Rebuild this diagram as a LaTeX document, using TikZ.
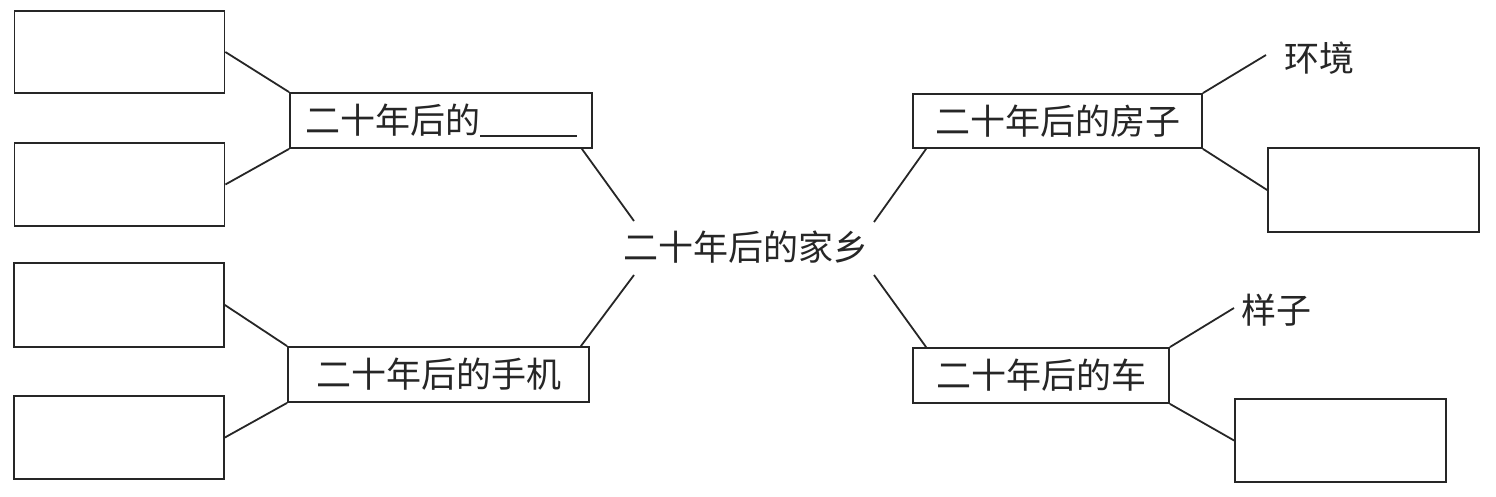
\documentclass[tikz,border=0pt]{standalone}
\usepackage{fontspec}
\newfontfamily\cjk{Noto Sans CJK SC}
\usetikzlibrary{calc}
\tikzset{
  emptybox/.style={draw=black!85, line width=0.9pt, rectangle, inner sep=0pt, minimum width=105pt},
  labelbox/.style={draw=black!85, line width=0.9pt, rectangle, inner sep=0pt, minimum height=27.5pt,
    font=\cjk\fontsize{17.5pt}{20pt}\selectfont, text=black!85},
  plaintext/.style={inner sep=0pt, font=\cjk\fontsize{17.5pt}{20pt}\selectfont, text=black!85},
  link/.style={draw=black!85, line width=0.9pt}
}
\begin{document}
\begin{tikzpicture}[x=0.5pt,y=-0.5pt]
\fill[white] (0,0) rectangle (1496,497);
\useasboundingbox (0,0) rectangle (1496,497);

% left empty boxes
\node[emptybox, minimum height=41pt] (tl1) at (119.5,52) {};
\node[emptybox, minimum height=41.5pt] (tl2) at (119.5,184.5) {};
\node[emptybox, minimum height=42pt] (tl3) at (119,305) {};
\node[emptybox, minimum height=41.5pt] (tl4) at (119,437.5) {};

% label boxes
\node[labelbox, minimum width=151pt] (blank) at (441,120.5) {二十年后的\rule[-1.5pt]{48.5pt}{0.7pt}};
\node[labelbox, minimum width=150.5pt] (phone) at (438.5,374.5) {二十年后的手机};
\node[labelbox, minimum width=144.5pt, minimum height=27pt] (house) at (1057.5,121) {二十年后的房子};
\node[labelbox, minimum width=128pt] (car) at (1041,375.5) {二十年后的车};

% right empty boxes
\node[emptybox, minimum width=105.5pt, minimum height=42pt] (r1) at (1373.5,190) {};
\node[emptybox, minimum width=105.5pt, minimum height=41.5pt] (r2) at (1340.5,440.5) {};

% centre text and side labels
\node[plaintext] (centre) at (746,247) {二十年后的家乡};
\node[plaintext] (hj) at (1319,58) {环境};
\node[plaintext] (yz) at (1276,310) {样子};

% free ends near the centre text and labels
\coordinate (cL1) at (634,221);
\coordinate (cL2) at (634,275);
\coordinate (cR1) at (874,222);
\coordinate (cR2) at (874,275);
\coordinate (hjE) at (1266,55);
\coordinate (yzE) at (1234,308);

% connectors
\draw[link] (tl1.east) -- (blank.north west);
\draw[link] (tl2.east) -- (blank.south west);
\draw[link] (tl3.east) -- (phone.north west);
\draw[link] (tl4.east) -- (phone.south west);
\draw[link] ($(blank.south east)+(-11,0)$) -- (cL1);
\draw[link] ($(phone.north east)+(-9,0)$) -- (cL2);
\draw[link] ($(house.south west)+(14,0)$) -- (cR1);
\draw[link] ($(car.north west)+(14,0)$) -- (cR2);
\draw[link] (house.north east) -- (hjE);
\draw[link] (house.south east) -- (r1.west);
\draw[link] (car.north east) -- (yzE);
\draw[link] (car.south east) -- (r2.west);
\end{tikzpicture}
\end{document}
